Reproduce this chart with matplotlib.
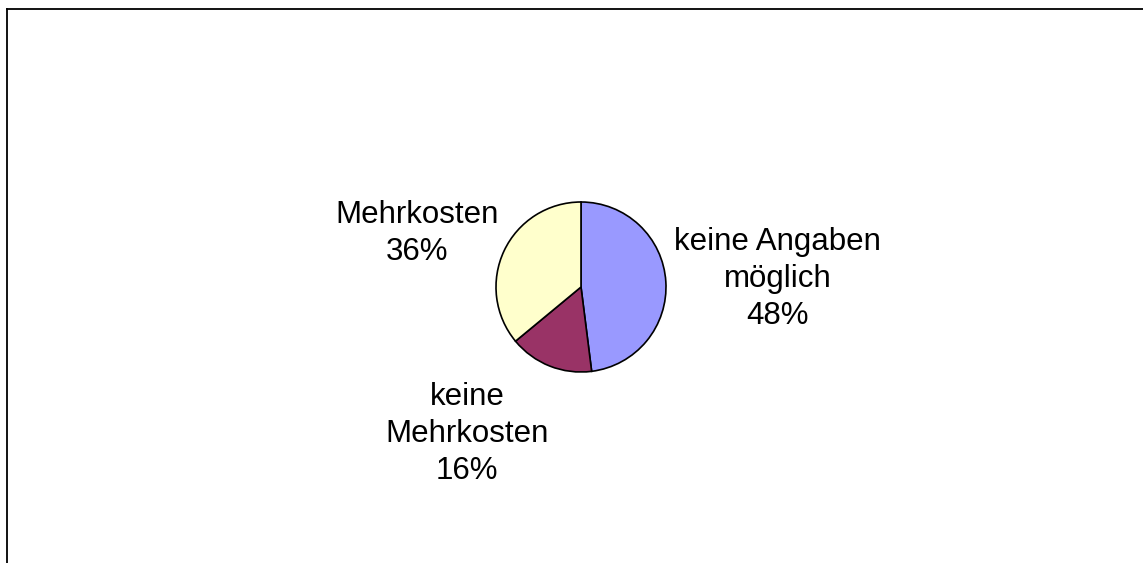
import matplotlib
matplotlib.use("Agg")
import matplotlib.pyplot as plt
from matplotlib.lines import Line2D

# Daten
categories = ["keine Angaben\nmöglich", "keine\nMehrkosten", "Mehrkosten"]
shares = [48, 16, 36]
colors = ["#9999FF", "#993366", "#FFFFCC"]

plt.rcParams['font.family'] = ['Liberation Sans', 'DejaVu Sans']

W, H = 1143, 563
fig = plt.figure(figsize=(W / 100, H / 100), dpi=100)

# pie centre (581, 287), radius 85 px
cx, cy, r = 581, 287, 85
ax = fig.add_axes([(cx - r) / W, 1 - (cy + r) / H, 2 * r / W, 2 * r / H])

wedges, _ = ax.pie(shares, colors=colors, startangle=90, counterclock=False,
                   wedgeprops=dict(edgecolor="black", linewidth=1.2))
ax.set_xlim(-1, 1)
ax.set_ylim(-1, 1)
ax.set_aspect("equal")
ax.axis("off")

# label positions in pie-radius units
label_pos = [(2.31, 0.09), (-1.34, -1.73), (-1.93, 0.63)]
for cat, val, (lx, ly) in zip(categories, shares, label_pos):
    ax.text(lx, ly, f"{cat}\n{val}%", ha="center", va="center", fontsize=22.5,
            linespacing=1.3, clip_on=False)

# Rahmen (oben und links)
fig.add_artist(Line2D([6.5 / W, 1], [1 - 8.5 / H, 1 - 8.5 / H], color="black", linewidth=1.3,
                      transform=fig.transFigure))
fig.add_artist(Line2D([6.5 / W, 6.5 / W], [0, 1 - 8.5 / H], color="black", linewidth=1.3,
                      transform=fig.transFigure))

fig.savefig("out.png", dpi=100)
